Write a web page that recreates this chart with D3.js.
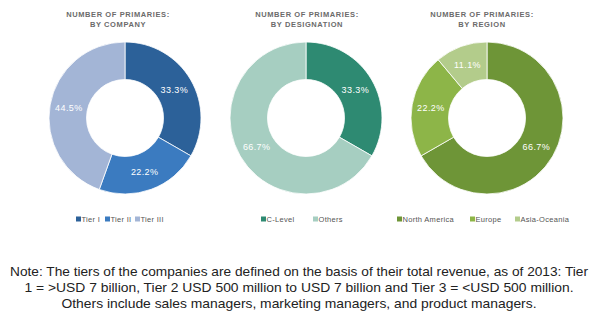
<!DOCTYPE html>
<html>
<head>
	<meta charset="utf-8">
	<title>primaries</title>
	<script type="text/javascript" src="https://cdn.jsdelivr.net/npm/d3@7"></script>
	<style type="text/css">
		body{margin:0;background:#fff;}
		.ttl{font-family:"Liberation Sans",Arial,sans-serif;font-size:7.5px;font-weight:bold;fill:#6b6b6b;letter-spacing:0.6px;}
		.lab{font-family:"Liberation Sans",Arial,sans-serif;font-size:9px;fill:#fff;letter-spacing:0.4px;}
		.leg{font-family:"Liberation Sans",Arial,sans-serif;font-size:7.5px;fill:#555;letter-spacing:0.3px;}
		.note{font-family:"Liberation Sans",Arial,sans-serif;font-size:13.5px;fill:#222;}
	</style>
</head>
<body>
	<script type="text/javascript">
		var width=600,
			height=319;

		// chart data
		var companyCats=["Tier I","Tier II","Tier III"],
			companyVals=[33.3,22.2,44.5],
			companyCols=["#2c6199","#3b7bc0","#a3b5d6"];
		var desigCats=["C-Level","Others"],
			desigVals=[33.3,66.7],
			desigCols=["#2e8a72","#a6cec1"];
		var regionCats=["North America","Europe","Asia-Oceania"],
			regionVals=[66.7,22.2,11.1],
			regionCols=["#6e9537","#8db548","#b3cc8b"];
		var titles=[["NUMBER OF PRIMARIES:","BY COMPANY"],["NUMBER OF PRIMARIES:","BY DESIGNATION"],["NUMBER OF PRIMARIES:","BY REGION"]];
		var noteLines=["Note: The tiers of the companies are defined on the basis of their total revenue, as of 2013: Tier",
			"1 = >USD 7 billion, Tier 2 USD 500 million to USD 7 billion and Tier 3 = <USD 500 million.",
			"Others include sales managers, marketing managers, and product managers."];
		var noteWidths=[578,549,475];

		var svg=d3.select("body")
				.append("svg")
				.attr("width", width)
				.attr("height", height);

		var charts=[
			{cats:companyCats, vals:companyVals, cols:companyCols, cx:125, tx:118, legX:[76,105,135]},
			{cats:desigCats, vals:desigVals, cols:desigCols, cx:306, tx:307, legX:[261,313]},
			{cats:regionCats, vals:regionVals, cols:regionCols, cx:487, tx:482, legX:[397,470,515]}
		];
		var cy=118, rOut=76, rIn=38.5;

		var pie=d3.pie().sort(null).value(function (d) { return d; });
		var arc=d3.arc().innerRadius(rIn).outerRadius(rOut);
		var labArc=d3.arc().innerRadius(57).outerRadius(57);

		charts.forEach(function (c, k) {
			var g=svg.append("g").attr("transform", "translate("+c.cx+","+cy+")");
			var color=d3.scaleOrdinal().domain(c.cats).range(c.cols);
			var arcs=pie(c.vals);
			g.selectAll("path")
				.data(arcs)
				.enter()
				.append("path")
				.attr("d", arc)
				.attr("fill", function (d, i) { return color(c.cats[i]); })
				.attr("stroke", "#fff")
				.attr("stroke-width", 0.8);
			g.selectAll("text")
				.data(arcs)
				.enter()
				.append("text")
				.attr("class", "lab")
				.attr("text-anchor", "middle")
				.attr("dy", "0.35em")
				.attr("transform", function (d) { return "translate("+labArc.centroid(d)+")"; })
				.text(function (d) { return d.value.toFixed(1)+"%"; });

			// title
			var t=svg.append("text")
				.attr("class", "ttl")
				.attr("text-anchor", "middle")
				.attr("x", c.tx)
				.attr("y", 17);
			t.append("tspan").attr("x", c.tx).text(titles[k][0]);
			t.append("tspan").attr("x", c.tx).attr("dy", 10).text(titles[k][1]);

			// legend
			var lg=svg.selectAll(".lg"+k)
				.data(c.cats)
				.enter()
				.append("g")
				.attr("class", "lg"+k)
				.attr("transform", function (d, i) { return "translate("+c.legX[i]+",219)"; });
			lg.append("rect")
				.attr("x", 0)
				.attr("y", -2.5)
				.attr("width", 5)
				.attr("height", 5)
				.attr("fill", function (d) { return color(d); });
			lg.append("text")
				.attr("class", "leg")
				.attr("x", 5.5)
				.attr("dy", "0.35em")
				.text(function (d) { return d; });
		});

		svg.selectAll(".note")
			.data(noteLines)
			.enter()
			.append("text")
			.attr("class", "note")
			.attr("text-anchor", "middle")
			.attr("x", 299)
			.attr("y", function (d, i) { return 276+i*16; })
			.attr("textLength", function (d, i) { return noteWidths[i]; })
			.attr("lengthAdjust", "spacingAndGlyphs")
			.text(function (d) { return d; });
	</script>
</body>
</html>
